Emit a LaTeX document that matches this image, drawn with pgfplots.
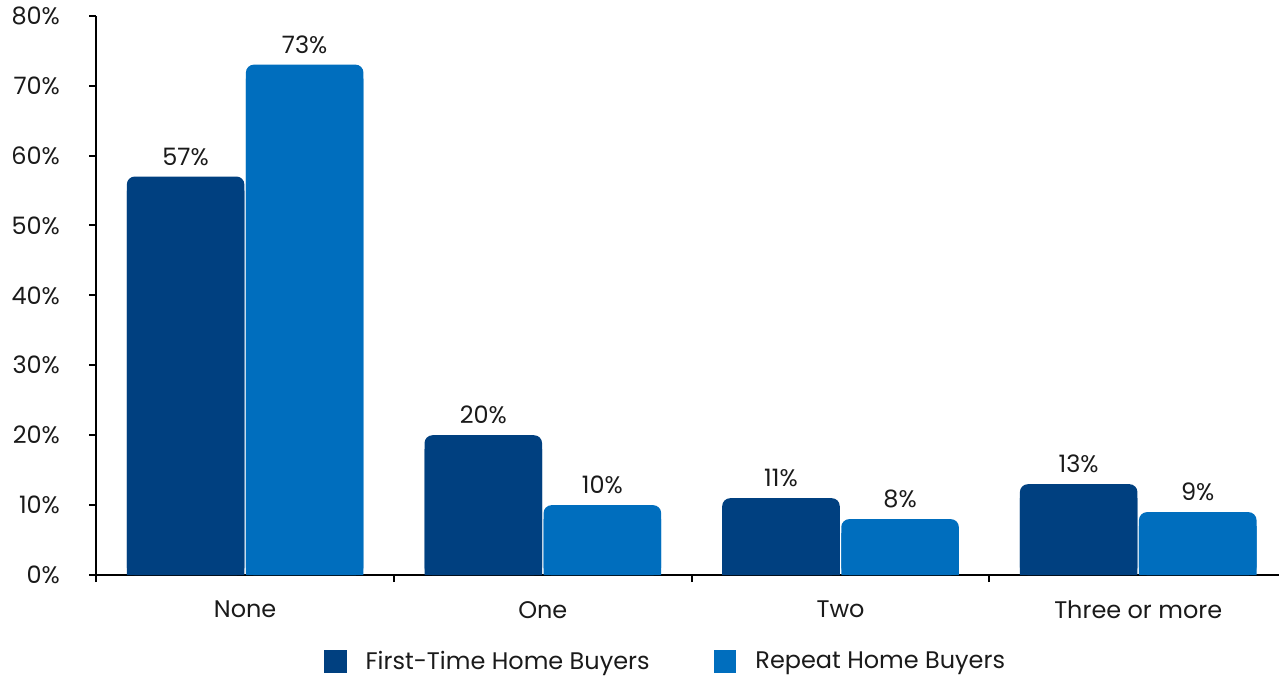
\documentclass[border=0pt]{standalone}
\usepackage{pgfplots}
\pgfplotsset{compat=1.18}
\usepackage{fontspec}
\setmainfont{Poppins}
\definecolor{firstbuy}{HTML}{004080}
\definecolor{repeatbuy}{HTML}{006EBE}
\definecolor{txt}{HTML}{1A1A1A}

\begin{document}
\begin{tikzpicture}
\begin{axis}[
    width=592pt, height=280pt, scale only axis,
    xmin=-0.5, xmax=3.473,
    ymin=0, ymax=80,
    axis lines*=left,
    axis line style={black, line width=1pt},
    font=\fontsize{12}{14}\selectfont,
    /pgf/number format/assume math mode=true,
    ytick={0,10,...,80},
    yticklabel={\pgfmathprintnumber{\tick}\%},
    yticklabel style={text=txt, anchor=east, text width=30pt, align=right,
        inner xsep=0pt, xshift=-14.5pt},
    xtick={0,1,2,3},
    xticklabels={None,One,Two,Three or more},
    xticklabel style={text=txt, yshift=-6pt},
    minor xtick={-0.5,0.5,1.5,2.5,3.5},
    tick align=outside,
    major tick length=3.5pt,
    minor tick length=3.5pt,
    major x tick style={draw=none},
    major y tick style={black, line width=1pt},
    minor x tick style={black, line width=1pt},
    legend style={draw=none, fill=none, at={(0.482,-0.121)}, anchor=north,
        legend columns=2, text=txt, font=\fontsize{12}{14}\selectfont,
        /tikz/every even column/.append style={column sep=30pt}},
    legend image code/.code={\fill[#1, sharp corners] (0pt,-5.75pt) rectangle (11.5pt,5.75pt);
        \path (0pt,0pt) (19pt,0pt);},
    nodes near coords={\pgfmathprintnumber{\pgfplotspointmeta}\%},
    every node near coord/.append style={text=txt, font=\fontsize{12}{14}\selectfont, yshift=2pt},
]
% rounded bars with labels
\addplot[ybar, bar width=0.395, bar shift=-0.2, fill=firstbuy, draw=none, rounded corners=4pt,
    nodes near coords style={xshift=-29.8pt}]
    coordinates {(0,57) (1,20) (2,11) (3,13)};
\addlegendentry{First-Time Home Buyers}
\addplot[ybar, bar width=0.395, bar shift=0.2, fill=repeatbuy, draw=none, rounded corners=4pt,
    nodes near coords style={xshift=29.8pt}]
    coordinates {(0,73) (1,10) (2,8) (3,9)};
\addlegendentry{Repeat Home Buyers}
% square lower parts, so that only the tops are rounded
\addplot[ybar, bar width=0.395, bar shift=-0.2, fill=firstbuy, draw=none, forget plot, nodes near coords={}]
    coordinates {(0,55) (1,18) (2,9) (3,11)};
\addplot[ybar, bar width=0.395, bar shift=0.2, fill=repeatbuy, draw=none, forget plot, nodes near coords={}]
    coordinates {(0,71) (1,8) (2,6) (3,7)};
\end{axis}
\end{tikzpicture}
\end{document}
